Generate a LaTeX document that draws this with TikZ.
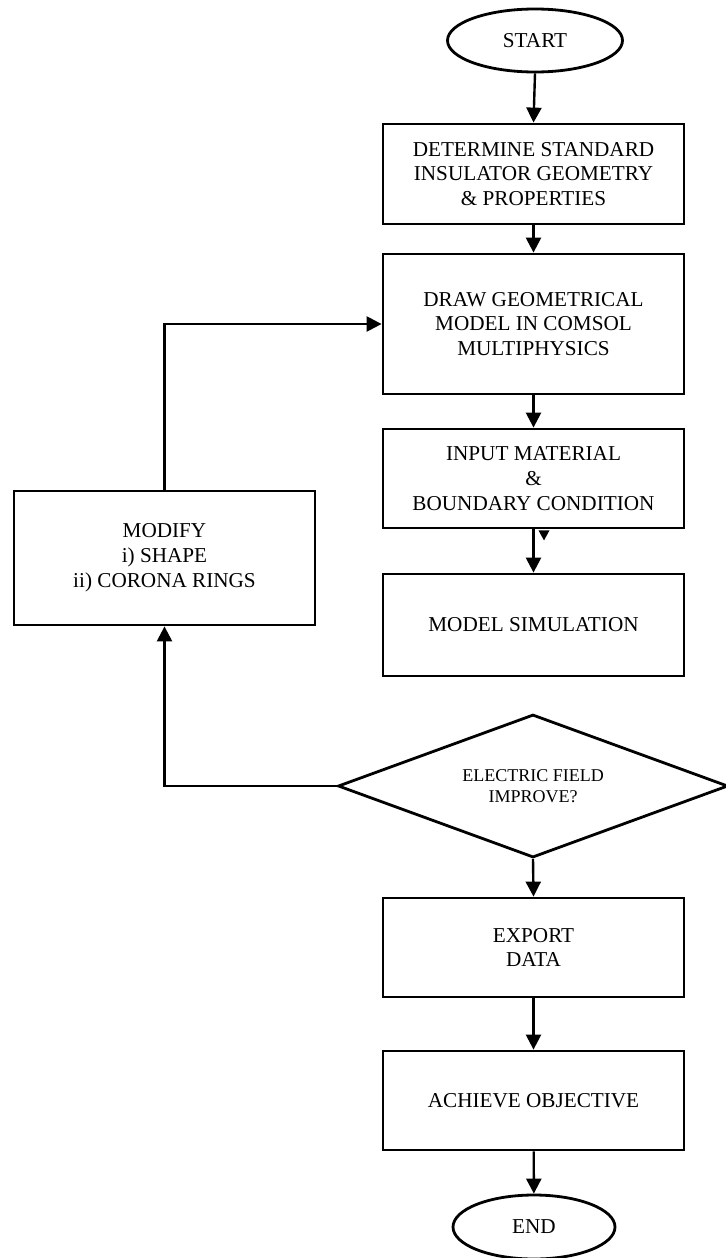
\documentclass[tikz,border=0pt]{standalone}
\usepackage{fontspec}
\setmainfont{Liberation Serif}
\usetikzlibrary{shapes.geometric,arrows.meta}
\begin{document}
\begin{tikzpicture}[x=0.5pt,y=-0.5pt,
  box/.style={draw, line width=1.4pt, minimum width=150.5pt, align=center, inner sep=0pt,
              font=\fontsize{10.6}{12.4}\selectfont},
  term/.style={draw, ellipse, line width=1.4pt, inner sep=0pt, font=\fontsize{10.6}{12.4}\selectfont},
  dec/.style={draw, diamond, shape aspect=2.73, line width=1.4pt, inner sep=0pt,
              minimum width=195pt, minimum height=71.5pt, align=center,
              font=\fontsize{9}{10.8}\selectfont},
  arr/.style={line width=1.2pt, -{Triangle[length=7.5pt,width=7.5pt]}},
  ln/.style={line width=1.2pt}]
\useasboundingbox (0,0) rectangle (726,1258);

\node[term, minimum width=87.5pt, minimum height=31.5pt] (start) at (535,40.5) {START};
\node[box, minimum height=50pt] (b1) at (533.5,174) {DETERMINE STANDARD\\INSULATOR GEOMETRY\\\& PROPERTIES};
\node[box, minimum height=70pt] (b2) at (533.5,324) {DRAW GEOMETRICAL\\MODEL IN COMSOL\\MULTIPHYSICS};
\node[box, minimum height=49.5pt] (b3) at (533.5,478.5) {INPUT MATERIAL\\\&\\BOUNDARY CONDITION};
\node[box, minimum height=51pt] (b4) at (533.5,625) {MODEL SIMULATION};
\node[dec] (d) at (533,786) {ELECTRIC FIELD\\IMPROVE?};
\node[box, minimum height=49.5pt] (b5) at (533.5,947.5) {EXPORT\\DATA};
\node[box, minimum height=49.5pt] (b6) at (533.5,1100.5) {ACHIEVE OBJECTIVE};
\node[term, minimum width=81pt, minimum height=32pt] (end) at (534,1227) {END};
\node[box, minimum height=67pt] (m) at (164.5,558) {MODIFY\\i) SHAPE\\ii) CORONA RINGS};

\draw[arr] (start.south) -- (b1.north);
\draw[arr] (b1) -- (b2);
\draw[arr] (b2) -- (b3);
\draw[arr] (b3) -- (b4);
\fill ([shift={(5,1)}]b3.south) -- ++(11,0) -- ++(-5.5,10) -- cycle;
\draw[arr] (d.west) -| (m.south);
\draw[arr] (m.north) |- (b2.west);
\draw[arr] (d.south) -- (b5.north);
\draw[arr] (b5) -- (b6);
\draw[arr] (b6) -- (end);
\end{tikzpicture}
\end{document}
